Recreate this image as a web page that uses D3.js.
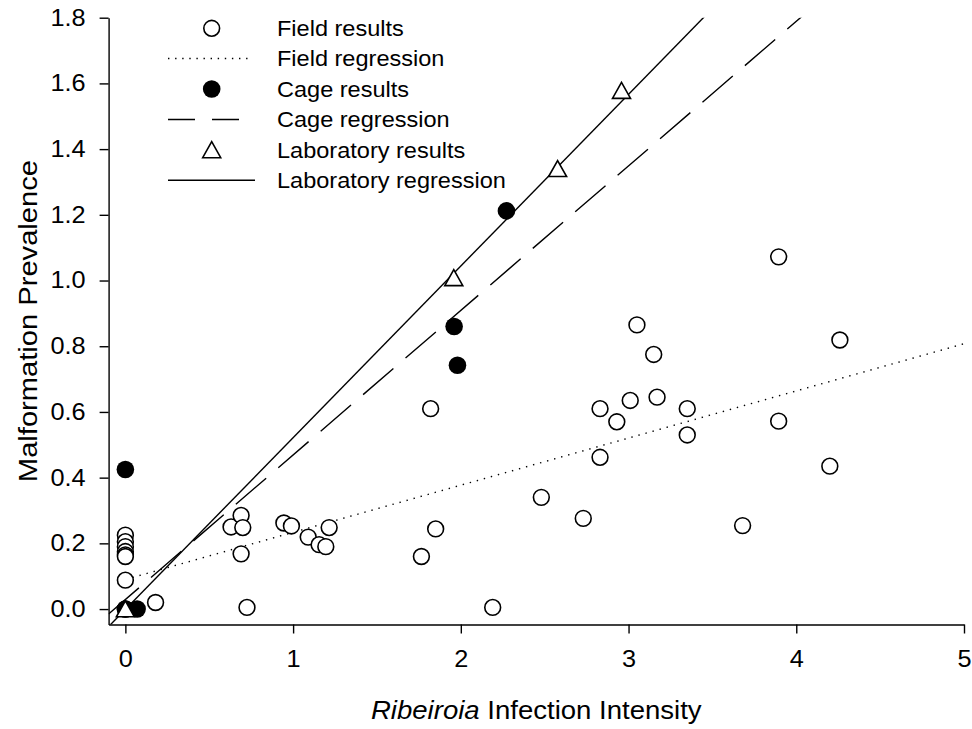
<!DOCTYPE html>
<html><head><meta charset="utf-8">
<script src="https://cdn.jsdelivr.net/npm/d3@7"></script>
<style>
body{margin:0;background:#fff}
svg{display:block}
text{font-family:"Liberation Sans",Arial,Helvetica,sans-serif;fill:#000}
</style>
</head><body>
<svg id="c" width="972" height="729"></svg>
<script>
// ---- data ----
const fieldX = [0,0,0,0,0,0,0,0, 0.18, 0.63,0.69,0.70,0.69,0.725, 0.945,0.99,1.09,1.155,1.195,1.215,
  1.82,1.85,1.765,2.19, 2.48,2.73,2.83,2.83,2.93,3.01,3.05,3.15,3.17,3.35,3.35, 3.68,3.895,3.895,4.2,4.26];
const fieldY = [0.225,0.205,0.19,0.175,0.165,0.16,0.088,0, 0.02, 0.25,0.285,0.248,0.168,0.005, 0.262,0.253,0.219,0.196,0.19,0.248,
  0.61,0.244,0.16,0.005, 0.34,0.276,0.462,0.61,0.57,0.635,0.865,0.775,0.645,0.61,0.53, 0.254,1.072,0.572,0.435,0.819];
const cageX = [0, 0.07, 0, 1.96, 1.98, 2.272];
const cageY = [0, 0.0, 0.425, 0.86, 0.742, 1.212];
const labX = [0, 1.958, 2.577, 2.958];
const labY = [0, 1.008, 1.340, 1.578];
// regression lines: [intercept, slope]
const fieldFit = [0.09, 0.1435];
const cageFit = [0.029, 0.44];
const labFit = [-0.001, 0.5226];
const xTicks = [0,1,2,3,4,5];
const yTicks = [0,0.2,0.4,0.6,0.8,1.0,1.2,1.4,1.6,1.8];
const legendLabels = ["Field results","Field regression","Cage results","Cage regression","Laboratory results","Laboratory regression"];

const svg = d3.select("#c");
const x = d3.scaleLinear().domain([-0.1,5]).range([108.6,964]);
const y = d3.scaleLinear().domain([-0.047,1.8]).range([624.5,17.7]);

function stretch(sel,k){
  sel.each(function(){
    const L=this.getComputedTextLength();
    this.setAttribute("textLength", L*k);
    this.setAttribute("lengthAdjust","spacingAndGlyphs");
  });
}

// clip
svg.append("defs").append("clipPath").attr("id","pc")
  .append("rect").attr("x",x(-0.1)).attr("y",y(1.8)).attr("width",x(5)-x(-0.1)).attr("height",y(-0.047)-y(1.8));

// regression lines
const lineG = svg.append("g").attr("clip-path","url(#pc)").attr("fill","none").attr("stroke","#000");
function fitLine(fit,x0,x1){
  return d3.line()([[x(x0),y(fit[0]+fit[1]*x0)],[x(x1),y(fit[0]+fit[1]*x1)]]);
}
lineG.append("path").attr("d",fitLine(fieldFit,0,5)).attr("stroke-width",1.4)
  .attr("stroke-dasharray","1.4,5.9");
lineG.append("path").attr("d",fitLine(cageFit,-0.1,5)).attr("stroke-width",1.4)
  .attr("stroke-dasharray","40,16");
lineG.append("path").attr("d",fitLine(labFit,-0.1,5)).attr("stroke-width",1.4);

// axes
const yAxis = d3.axisLeft(y).tickValues(yTicks).tickFormat(d3.format(".1f")).tickSize(9).tickSizeOuter(0).tickPadding(14);
const xAxis = d3.axisBottom(x).tickValues(xTicks).tickFormat(d3.format("d")).tickSize(9).tickSizeOuter(0).tickPadding(17);
const gy = svg.append("g").attr("transform",`translate(${x(-0.1)},0)`).call(yAxis);
const gx = svg.append("g").attr("transform",`translate(0,${y(-0.047)})`).call(xAxis);
[gx,gy].forEach(g=>{
  g.select(".domain").attr("stroke","#000").attr("stroke-width",1.4);
  g.selectAll(".tick line").attr("stroke","#000").attr("stroke-width",1.4);
  g.selectAll(".tick text").attr("font-size",23).attr("font-family",null).attr("fill","#000");
});
gx.selectAll(".tick text").attr("dy","0.71em");
stretch(gy.selectAll(".tick text"),1.1);
stretch(gx.selectAll(".tick text"),1.1);

// points
const field = fieldX.map((v,i)=>[v,fieldY[i]]);
const cage = cageX.map((v,i)=>[v,cageY[i]]);
const lab = labX.map((v,i)=>[v,labY[i]]);
const tri = "M0,-8.3L9,7.7L-9,7.7Z";
svg.append("g").selectAll("circle").data(field).join("circle")
  .attr("cx",d=>x(d[0])).attr("cy",d=>y(d[1])).attr("r",7.9)
  .attr("fill","#fff").attr("stroke","#000").attr("stroke-width",1.6);
svg.append("g").selectAll("circle").data(cage).join("circle")
  .attr("cx",d=>x(d[0])).attr("cy",d=>y(d[1])).attr("r",8.8).attr("fill","#000");
svg.append("g").selectAll("path").data(lab).join("path")
  .attr("transform",d=>`translate(${x(d[0])},${y(d[1])})`).attr("d",tri)
  .attr("fill","#fff").attr("stroke","#000").attr("stroke-width",1.6);

// legend
const rowY = [28.3,58.5,89,119.5,150,180.3];
const lg = svg.append("g");
const symX = 211.7, l0 = 168, l1 = 255;
lg.append("circle").attr("cx",symX).attr("cy",rowY[0]).attr("r",7.9).attr("fill","#fff").attr("stroke","#000").attr("stroke-width",1.6);
lg.append("line").attr("x1",l0).attr("x2",253).attr("y1",rowY[1]).attr("y2",rowY[1]).attr("stroke","#000").attr("stroke-width",1.4).attr("stroke-dasharray","1.4,5.7");
lg.append("circle").attr("cx",symX).attr("cy",rowY[2]).attr("r",8.8).attr("fill","#000");
lg.append("line").attr("x1",l0).attr("x2",243.5).attr("y1",rowY[3]).attr("y2",rowY[3]).attr("stroke","#000").attr("stroke-width",1.4).attr("stroke-dasharray","27,17");
lg.append("path").attr("transform",`translate(${symX},${rowY[4]})`).attr("d",tri).attr("fill","#fff").attr("stroke","#000").attr("stroke-width",1.6);
lg.append("line").attr("x1",l0).attr("x2",l1).attr("y1",rowY[5]).attr("y2",rowY[5]).attr("stroke","#000").attr("stroke-width",1.4);
const lt = lg.selectAll("text.lab").data(legendLabels).join("text").attr("class","lab")
  .attr("x",277).attr("y",(d,i)=>rowY[i]+7.7).attr("font-size",21.4).text(d=>d);
stretch(lt,1.1);

// axis titles
const xt = svg.append("text").attr("x",(x(-0.1)+x(5))/2).attr("y",719).attr("text-anchor","middle").attr("font-size",25.5);
xt.append("tspan").attr("font-style","italic").text("Ribeiroia");
xt.append("tspan").text(" Infection Intensity");
stretch(xt,1.08);
const yt = svg.append("text").attr("transform",`translate(37,${(y(-0.047)+y(1.8))/2}) rotate(-90)`)
  .attr("text-anchor","middle").attr("font-size",26).text("Malformation Prevalence");
stretch(yt,1.12);
</script>
</body></html>
